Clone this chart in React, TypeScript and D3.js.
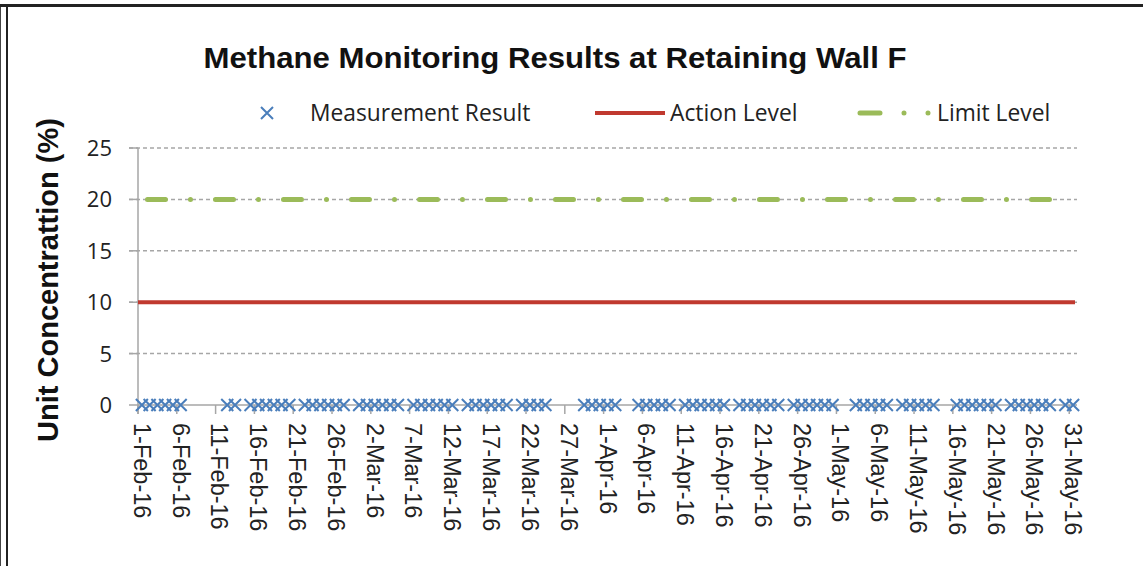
import * as d3 from "d3";
import React from "react";

// measurement days (all readings 0 %)
const measurementResults: [string, number][] = [
  ["2016-02-01", 0], ["2016-02-02", 0], ["2016-02-03", 0], ["2016-02-04", 0], ["2016-02-05", 0], ["2016-02-06", 0],
  ["2016-02-12", 0], ["2016-02-13", 0],
  ["2016-02-15", 0], ["2016-02-16", 0], ["2016-02-17", 0], ["2016-02-18", 0], ["2016-02-19", 0], ["2016-02-20", 0],
  ["2016-02-22", 0], ["2016-02-23", 0], ["2016-02-24", 0], ["2016-02-25", 0], ["2016-02-26", 0], ["2016-02-27", 0],
  ["2016-02-29", 0], ["2016-03-01", 0], ["2016-03-02", 0], ["2016-03-03", 0], ["2016-03-04", 0], ["2016-03-05", 0],
  ["2016-03-07", 0], ["2016-03-08", 0], ["2016-03-09", 0], ["2016-03-10", 0], ["2016-03-11", 0], ["2016-03-12", 0],
  ["2016-03-14", 0], ["2016-03-15", 0], ["2016-03-16", 0], ["2016-03-17", 0], ["2016-03-18", 0], ["2016-03-19", 0],
  ["2016-03-21", 0], ["2016-03-22", 0], ["2016-03-23", 0], ["2016-03-24", 0],
  ["2016-03-29", 0], ["2016-03-30", 0], ["2016-03-31", 0], ["2016-04-01", 0], ["2016-04-02", 0],
  ["2016-04-05", 0], ["2016-04-06", 0], ["2016-04-07", 0], ["2016-04-08", 0], ["2016-04-09", 0],
  ["2016-04-11", 0], ["2016-04-12", 0], ["2016-04-13", 0], ["2016-04-14", 0], ["2016-04-15", 0], ["2016-04-16", 0],
  ["2016-04-18", 0], ["2016-04-19", 0], ["2016-04-20", 0], ["2016-04-21", 0], ["2016-04-22", 0], ["2016-04-23", 0],
  ["2016-04-25", 0], ["2016-04-26", 0], ["2016-04-27", 0], ["2016-04-28", 0], ["2016-04-29", 0], ["2016-04-30", 0],
  ["2016-05-03", 0], ["2016-05-04", 0], ["2016-05-05", 0], ["2016-05-06", 0], ["2016-05-07", 0],
  ["2016-05-09", 0], ["2016-05-10", 0], ["2016-05-11", 0], ["2016-05-12", 0], ["2016-05-13", 0],
  ["2016-05-16", 0], ["2016-05-17", 0], ["2016-05-18", 0], ["2016-05-19", 0], ["2016-05-20", 0], ["2016-05-21", 0],
  ["2016-05-23", 0], ["2016-05-24", 0], ["2016-05-25", 0], ["2016-05-26", 0], ["2016-05-27", 0], ["2016-05-28", 0],
  ["2016-05-30", 0], ["2016-05-31", 0],
];

const actionLevel = 10;
const limitLevel = 20;
const periodStart = "2016-02-01";
const periodEnd = "2016-05-31";

const yTicks = [0, 5, 10, 15, 20, 25];
const xTickLabels = [
  "1-Feb-16", "6-Feb-16", "11-Feb-16", "16-Feb-16", "21-Feb-16", "26-Feb-16",
  "2-Mar-16", "7-Mar-16", "12-Mar-16", "17-Mar-16", "22-Mar-16", "27-Mar-16",
  "1-Apr-16", "6-Apr-16", "11-Apr-16", "16-Apr-16", "21-Apr-16", "26-Apr-16",
  "1-May-16", "6-May-16", "11-May-16", "16-May-16", "21-May-16", "26-May-16", "31-May-16",
];

const width = 1143;
const height = 566;
const plot = { left: 138, right: 1077, top: 148, bottom: 405 };

const parseIso = d3.utcParse("%Y-%m-%d");
const parseLabel = d3.utcParse("%d-%b-%y");

const BLUE = "#4A7EBB";
const RED = "#C0392F";
const GREEN = "#9BBB59";
const GRID = "#A6A6A6";

const App = () => {
  const start = parseIso(periodStart) as Date;
  const end = d3.utcDay.offset(parseIso(periodEnd) as Date, 1);

  const x = d3.scaleUtc().domain([start, end]).range([plot.left, plot.right]);
  const y = d3.scaleLinear().domain([0, 25]).range([plot.bottom, plot.top]);

  // points sit in the middle of each day slot
  const xMid = (d: Date) => x(d3.utcHour.offset(d, 12));

  const firstMid = xMid(start);
  const lastMid = xMid(parseIso(periodEnd) as Date);

  const cross = "M-6,-6L6,6M-6,6L6,-6";

  return (
    <svg
      width={width}
      height={height}
      style={{ position: "absolute", left: 0, top: 0, background: "#fff" }}
    >
      {/* frame */}
      <rect x={0} y={4} width={width} height={3} fill="#222" />
      <rect x={6} y={4} width={2} height={height} fill="#222" />
      <rect x={0} y={7} width={1} height={height} fill="#444" />

      <text
        x={555}
        y={68}
        textAnchor="middle"
        fontFamily="Liberation Sans, Arial, sans-serif"
        fontWeight="bold"
        fontSize={29}
        textLength={703}
        lengthAdjust="spacingAndGlyphs"
        fill="#111"
      >
        Methane Monitoring Results at Retaining Wall F
      </text>

      {/* legend */}
      <g fontFamily="Open Sans, sans-serif" fontSize={22.8} fill="#222">
        <path d={cross} transform="translate(267,113)" stroke={BLUE} strokeWidth={2} fill="none" />
        <text x={310} y={121}>Measurement Result</text>
        <line x1={595} x2={665} y1={113} y2={113} stroke={RED} strokeWidth={4} />
        <text x={670} y={121}>Action Level</text>
        <line
          x1={860}
          x2={931}
          y1={113}
          y2={113}
          stroke={GREEN}
          strokeWidth={5}
          strokeLinecap="round"
          strokeDasharray="20 24 0 24 0 200"
        />
        <text x={937} y={121}>Limit Level</text>
      </g>

      {/* grid */}
      {yTicks.filter((t) => t > 0).map((t) => (
        <line
          key={"g" + t}
          x1={plot.left - 9}
          x2={plot.right}
          y1={y(t)}
          y2={y(t)}
          stroke={GRID}
          strokeWidth={1.5}
          strokeDasharray="4 3"
        />
      ))}
      {yTicks.map((t) => (
        <line key={"yt" + t} x1={plot.left - 9} x2={plot.left} y1={y(t)} y2={y(t)} stroke={GRID} strokeWidth={1.5} />
      ))}

      {/* axes */}
      <line x1={plot.left} x2={plot.left} y1={plot.top} y2={plot.bottom + 9} stroke={GRID} strokeWidth={1.5} />
      <line x1={plot.left} x2={plot.right} y1={plot.bottom} y2={plot.bottom} stroke={GRID} strokeWidth={1.5} />

      {xTickLabels.map((lbl) => {
        const d = parseLabel(lbl) as Date;
        return (
          <line key={"xt" + lbl} x1={x(d)} x2={x(d)} y1={plot.bottom} y2={plot.bottom + 9} stroke={GRID} strokeWidth={1.5} />
        );
      })}

      <g fontFamily="Open Sans, sans-serif" fontSize={22} fill="#222" textAnchor="end">
        {yTicks.map((t) => (
          <text key={"yl" + t} x={112} y={y(t)} dy="0.36em">
            {t}
          </text>
        ))}
      </g>

      <g fontFamily="Liberation Sans, Arial, sans-serif" fontSize={23.5} fill="#222">
        {xTickLabels.map((lbl) => {
          const cx = xMid(parseLabel(lbl) as Date);
          return (
            <text
              key={"xl" + lbl}
              transform={`translate(${cx},423) rotate(90)`}
              dominantBaseline="central"
            >
              {lbl}
            </text>
          );
        })}
      </g>

      <text
        transform="translate(58,280) rotate(-90)"
        textAnchor="middle"
        fontFamily="Liberation Sans, Arial, sans-serif"
        fontWeight="bold"
        fontSize={29}
        fill="#111"
      >
        Unit Concentrattion (%)
      </text>

      {/* series */}
      <line x1={plot.left} x2={plot.right - 2} y1={y(actionLevel)} y2={y(actionLevel)} stroke={RED} strokeWidth={4} />
      <line
        x1={firstMid}
        x2={lastMid}
        y1={y(limitLevel)}
        y2={y(limitLevel)}
        stroke={GREEN}
        strokeWidth={5}
        strokeLinecap="round"
        strokeDasharray="18 25 0 25"
        strokeDashoffset={-5.6}
      />
      {measurementResults.map(([ds, v]) => (
        <path
          key={ds}
          d={cross}
          transform={`translate(${xMid(parseIso(ds) as Date)},${y(v)})`}
          stroke={BLUE}
          strokeWidth={2}
          fill="none"
        />
      ))}
    </svg>
  );
};

export default App;
